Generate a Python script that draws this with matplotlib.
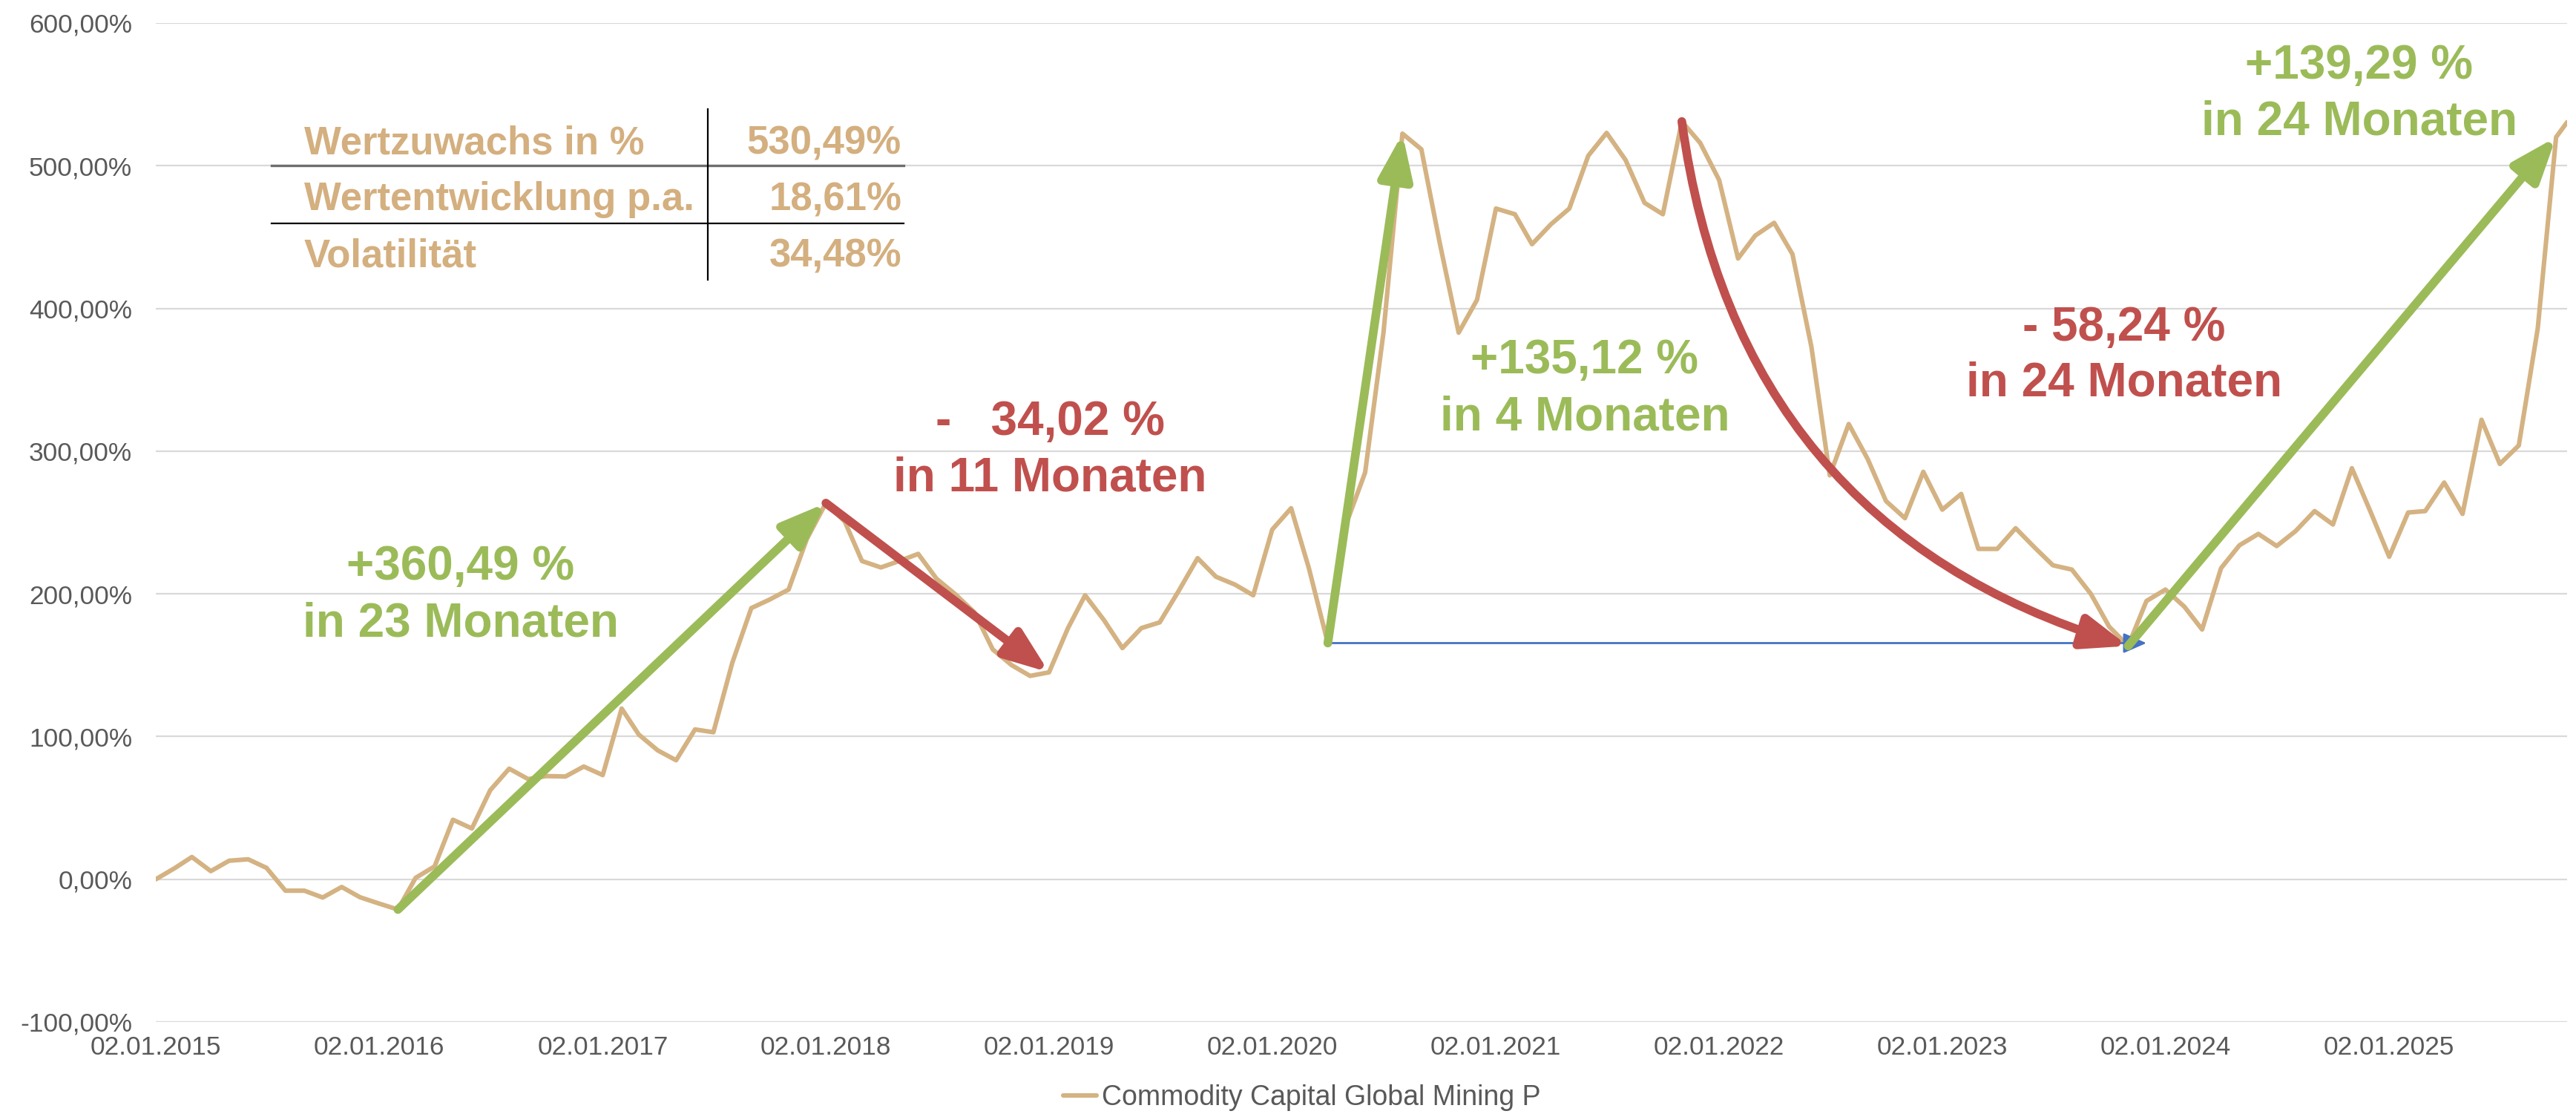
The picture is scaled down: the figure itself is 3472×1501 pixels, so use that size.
import matplotlib
matplotlib.use("Agg")
import matplotlib.pyplot as plt
import matplotlib.dates as mdates
from matplotlib.patches import FancyArrowPatch
from matplotlib.lines import Line2D
from matplotlib.ticker import FuncFormatter, MultipleLocator
import pandas as pd

plt.rcParams['font.family'] = ['Liberation Sans', 'DejaVu Sans']

# Wertentwicklung seit 02.01.2015 in %, monatlich + letzter Kurs
dates = list(pd.date_range('2015-01-01', periods=130, freq='MS') + pd.Timedelta(days=1))
dates.append(pd.Timestamp('2025-10-20'))
werte = [
    0, 7.8, 15.6, 5.7, 13.0, 14.0, 8.0, -8.0, -8.0, -12.8, -5.4, -12.6,
    -17.0, -21.2, 1, 9, 41.7, 35.6, 62.4, 77.5, 70.2, 72.3, 72, 79,
    73, 119.6, 101.4, 90.3, 83.4, 105, 103, 151.8, 190, 196, 203, 238.6,
    263.6, 250.6, 223, 218.5, 223, 228, 210.6, 199.6, 187, 161, 150, 142.5,
    145, 176, 199, 181.5, 162, 176, 180, 202, 225, 212, 206.5, 199,
    245, 260, 218, 165.5, 249, 285, 383, 522.5, 511.5, 446, 383, 406,
    470, 466, 445, 459, 470, 507, 523, 504, 474, 466, 531, 516,
    490, 435, 451, 460, 438, 373, 283, 319, 294.5, 265, 253, 285.5,
    259, 270, 231.5, 231.5, 246, 232.5, 220, 217, 200, 177, 163.5, 195,
    203, 191, 175, 218, 234, 242, 233.5, 244, 258, 248.6, 288, 258,
    226, 257, 258, 278, 256, 322, 291, 304, 386, 520, 530.49,
]
fonds = 'Commodity Capital Global Mining P'

kennzahlen = ['Wertzuwachs in %', 'Wertentwicklung p.a.', 'Volatilität']
kennwerte = ['530,49%', '18,61%', '34,48%']

# Phasen: (Start-Index, End-Index, Zeile 1, Zeile 2, Farbe)
phasen = [
    (13, 36, '+360,49 %', 'in 23 Monaten', 'gruen'),
    (36, 48, '-   34,02 %', 'in 11 Monaten', 'rot'),
    (63, 67, '+135,12 %', 'in 4 Monaten', 'gruen'),
    (82, 106, '- 58,24 %', 'in 24 Monaten', 'rot'),
    (106, 129, '+139,29 %', 'in 24 Monaten', 'gruen'),
]

farben = {'gruen': '#9BBB59', 'rot': '#C0504D', 'blau': '#4472C4'}
linie = '#D4B282'
grau = '#595959'

W, H = 3472, 1501
fig = plt.figure(figsize=(W / 200, H / 200), dpi=200)
ax = fig.add_axes([210 / W, 1 - 1377 / H, 3250 / W, 1346 / H])

ax.plot(dates, werte, color=linie, lw=2.2, label=fonds, zorder=3,
        solid_joinstyle='round', solid_capstyle='round')

ax.set_ylim(-100, 600)
ax.set_xlim(dates[0], dates[-1])
ax.yaxis.set_major_locator(MultipleLocator(100))
ax.yaxis.set_major_formatter(FuncFormatter(lambda v, p: f'{v:.2f}%'.replace('.', ',')))
ax.set_xticks(dates[:121:12])
ax.xaxis.set_major_formatter(mdates.DateFormatter('%d.%m.%Y'))
ax.tick_params(axis='both', length=0, labelsize=12.7, labelcolor=grau)
ax.tick_params(axis='y', pad=11.5)
ax.tick_params(axis='x', pad=6.5)
ax.grid(axis='y', color='#D9D9D9', lw=0.8)
ax.grid(axis='x', visible=False)
ax.set_axisbelow(True)
for s in ax.spines.values():
    s.set_visible(False)


def pfeil(i0, i1, farbe, lw, ms, hl, hw, rad=0.0, y0=None, y1=None, z=5):
    p0 = (mdates.date2num(dates[i0]), werte[i0] if y0 is None else y0)
    p1 = (mdates.date2num(dates[i1]), werte[i1] if y1 is None else y1)
    a = FancyArrowPatch(p0, p1, arrowstyle=f'-|>,head_length={hl},head_width={hw}',
                        connectionstyle=f'arc3,rad={rad}', mutation_scale=ms,
                        color=farben[farbe], lw=lw, zorder=z, shrinkA=0, shrinkB=0)
    ax.add_patch(a)


# blaue Linie auf Höhe des Corona-Tiefs
pfeil(63, 107, 'blau', 1.0, 12, 0.8, 0.35, y0=werte[63], y1=werte[63], z=4)
for k, (i0, i1, t1, t2, f) in enumerate(phasen):
    rad = 0.32 if k == 3 else 0.0
    pfeil(i0, i1, f, 4.2, 20, 0.9, 0.34, rad=rad, z=6 if f == 'rot' else 5)

# Beschriftungen der Phasen (Pixelpositionen)
text_pos = [(621, 781, 857), (1415, 586, 662), (2136, 503, 580),
            (2863, 459, 534), (3180, 106, 181)]
for (i0, i1, t1, t2, f), (x, b1, b2) in zip(phasen, text_pos):
    for t, b in ((t1, b1), (t2, b2)):
        fig.text(x / W, 1 - b / H, t, ha='center', va='baseline',
                 fontsize=23, fontweight='bold', color=farben[f])

# Kennzahlen-Tabelle
tab_farbe = '#D4AF7F'
for lab, val, b in zip(kennzahlen, kennwerte, [207, 283, 359]):
    fig.text(410 / W, 1 - b / H, lab, ha='left', va='baseline',
             fontsize=19, fontweight='bold', color=tab_farbe)
    fig.text(1215 / W, 1 - b / H, val, ha='right', va='baseline',
             fontsize=19, fontweight='bold', color=tab_farbe)
fig.add_artist(Line2D([366 / W, 1218 / W], [1 - 223 / H] * 2, color='#6E6E6E', lw=1.2))
fig.add_artist(Line2D([366 / W, 1218 / W], [1 - 301 / H] * 2, color='black', lw=0.8))
fig.add_artist(Line2D([954 / W] * 2, [1 - 147 / H, 1 - 377 / H], color='black', lw=0.8))

fig.legend(handles=ax.get_lines(), loc='center', bbox_to_anchor=(1755 / W, 1 - 1479 / H),
           frameon=False, fontsize=13.5, handlelength=1.2, handletextpad=0.2,
           borderpad=0, labelcolor=grau)

fig.savefig('out.png', dpi=200)
